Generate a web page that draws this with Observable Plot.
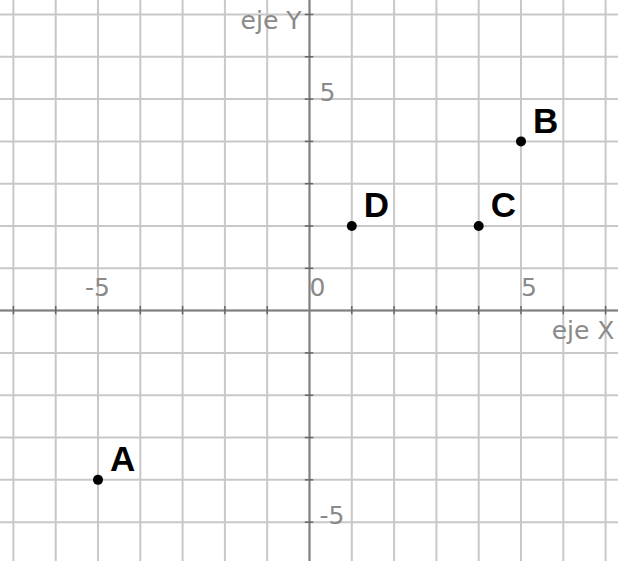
<!DOCTYPE html>
<html>
<head>
<meta charset="utf-8">
<script src="https://cdn.jsdelivr.net/npm/d3@7"></script>
<script src="https://cdn.jsdelivr.net/npm/@observablehq/plot@0.6"></script>
<style>
  html, body { margin: 0; padding: 0; background: #fff; }
  #chart svg { display: block; }
</style>
</head>
<body>
<div id="chart"></div>
<script>
// Data
const pointNames = ["A", "B", "C", "D"];
const pointX = [-5, 5, 4, 1];
const pointY = [-4, 4, 2, 2];

const gridX = [-7, -6, -5, -4, -3, -2, -1, 0, 1, 2, 3, 4, 5, 6, 7];
const gridY = [-5, -4, -3, -2, -1, 0, 1, 2, 3, 4, 5, 6, 7];

const xTickValues = [-5, 0, 5];
const xTickLabels = ["-5", "0", "5"];
const yTickValues = [-5, 5];
const yTickLabels = ["-5", "5"];

const xAxisTitle = "eje X";
const yAxisTitle = "eje Y";

const points = pointNames.map((n, i) => ({name: n, x: pointX[i], y: pointY[i]}));
const xTicks = xTickValues.map((v, i) => ({v, label: xTickLabels[i]}));
const yTicks = yTickValues.map((v, i) => ({v, label: yTickLabels[i]}));

const gridColor = "#c8c8c8";
const axisColor = "#808080";
const labelColor = "#8a8a8a";
const font = "'DejaVu Sans', sans-serif";
const fs = 25;

const chart = Plot.plot({
  width: 618,
  height: 561,
  margin: 0,
  x: {domain: [-7.305, 7.305], axis: null},
  y: {domain: [-5.93, 7.33], axis: null},
  style: {background: "#fff"},
  marks: [
    Plot.ruleX(gridX, {stroke: gridColor, strokeWidth: 2}),
    Plot.ruleY(gridY, {stroke: gridColor, strokeWidth: 2}),
    Plot.ruleX([0], {stroke: axisColor, strokeWidth: 2}),
    Plot.ruleY([0], {stroke: axisColor, strokeWidth: 2}),
    Plot.ruleX(gridX.filter(d => d !== 0), {y1: -0.1, y2: 0.1, stroke: "#666", strokeWidth: 1.5}),
    Plot.ruleY(gridY.filter(d => d !== 0), {x1: -0.1, x2: 0.1, stroke: "#666", strokeWidth: 1.5}),
    Plot.text(xTicks.filter(d => d.v >= 0), {x: "v", y: 0, text: "label", textAnchor: "start", dx: 0, dy: -23, fill: labelColor, fontSize: fs, fontFamily: font}),
    Plot.text(xTicks.filter(d => d.v < 0), {x: "v", y: 0, text: "label", textAnchor: "start", dx: -13, dy: -23, fill: labelColor, fontSize: fs, fontFamily: font}),
    Plot.text(yTicks, {x: 0, y: "v", text: "label", textAnchor: "start", dx: 10, dy: -6, fill: labelColor, fontSize: fs, fontFamily: font}),
    Plot.text([xAxisTitle], {x: 7.305, y: 0, text: d => d, textAnchor: "end", dx: -4, dy: 20, fill: labelColor, fontSize: fs, fontFamily: font}),
    Plot.text([yAxisTitle], {x: 0, y: 7.33, text: d => d, textAnchor: "end", dx: -8, dy: 20, fill: labelColor, fontSize: fs, fontFamily: font}),
    Plot.dot(points, {x: "x", y: "y", r: 5, fill: "#000", stroke: "none"}),
    Plot.text(points, {x: "x", y: "y", text: "name", textAnchor: "start", dx: 12, dy: -20, fill: "#000", fontSize: 35, fontWeight: "bold", fontFamily: "'Liberation Sans', Arial, sans-serif"})
  ]
});
document.getElementById("chart").appendChild(chart);
</script>
</body>
</html>
